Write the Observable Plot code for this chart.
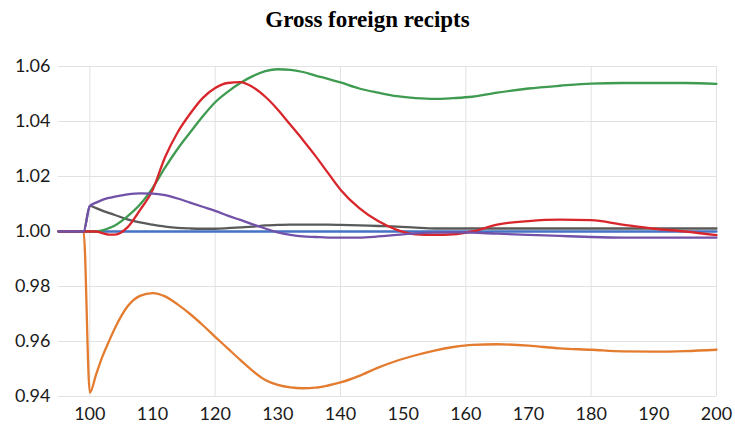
<!DOCTYPE html>
<html>
<head>
<meta charset="utf-8">
<script src="https://cdn.jsdelivr.net/npm/d3@7"></script>
<script src="https://cdn.jsdelivr.net/npm/@observablehq/plot@0.6"></script>
<style>
  body { margin: 0; background: #fff; }
  #title { height: 40px; line-height: 40px; text-align: center; font-family: "Liberation Serif", serif; font-weight: bold; font-size: 23px; color: #000; width: 735px; }
</style>
</head>
<body>
<div id="title">Gross foreign recipts</div>
<div id="chart"></div>
<script>
const periods = [95,99,100,101,102,103,104,106,108,110,112,114,116,118,120,122,124,126,128,130,132,134,136,138,140,143,146,149,152,155,158,161,165,170,175,180,185,190,195,200];

const seriesA = periods.map(() => 1.000);
const seriesB = [1,1,0.9414,0.948,0.9545,0.9598,0.9648,0.9727,0.9766,0.9776,0.9764,0.9735,0.9700,0.9660,0.9617,0.9575,0.9533,0.9493,0.9460,0.9442,0.9433,0.943,0.9432,0.944,0.9451,0.9475,0.9505,0.953,0.955,0.9567,0.958,0.9588,0.959,0.9585,0.9575,0.957,0.9564,0.9563,0.9565,0.957];
const seriesC = [1,1,1.0093,1.0085,1.0076,1.0068,1.006,1.0044,1.0033,1.0025,1.0018,1.0013,1.0011,1.001,1.001,1.0012,1.0015,1.0018,1.0022,1.0024,1.0025,1.0025,1.0025,1.0025,1.0024,1.0022,1.002,1.0018,1.0014,1.0011,1.0011,1.0011,1.0011,1.0011,1.0011,1.0011,1.0011,1.0011,1.0011,1.0011];
const seriesD = [1,1,1,1,1.0004,1.0012,1.0022,1.0055,1.0098,1.0158,1.0232,1.030,1.036,1.0418,1.047,1.0508,1.054,1.0565,1.0583,1.059,1.0588,1.058,1.0567,1.0555,1.0542,1.052,1.0505,1.0492,1.0485,1.0482,1.0485,1.049,1.0505,1.052,1.053,1.0538,1.054,1.054,1.054,1.0537];
const seriesE = [1,1,1,1,0.9994,0.9989,0.9989,1.0015,1.0078,1.015,1.027,1.036,1.0428,1.0485,1.0522,1.054,1.0543,1.0525,1.049,1.0443,1.0388,1.0333,1.0275,1.0213,1.0152,1.0085,1.0038,1.0006,0.999,0.9988,0.999,1.0,1.0025,1.0038,1.0043,1.0041,1.0025,1.001,1.0,0.9987];
const seriesF = [1,1,1.0093,1.0105,1.0115,1.0122,1.0127,1.0135,1.0139,1.0138,1.0132,1.0120,1.0105,1.009,1.0075,1.0058,1.0042,1.0026,1.0011,0.9997,0.9988,0.9982,0.998,0.9978,0.9978,0.9978,0.9982,0.9988,0.9993,0.9996,0.9997,0.9996,0.9992,0.9988,0.9984,0.998,0.9978,0.9978,0.9978,0.9978];

const seriesNames  = ["s1","s2","s3","s4","s5","s6"];
const seriesValues = [seriesA, seriesB, seriesC, seriesD, seriesE, seriesF];
const seriesColors = ["#4472C4","#E47C30","#5A5A5A","#3E9B50","#D8262C","#7152A8"];

const xTicks = [100,110,120,130,140,150,160,170,180,190,200];
const xGrid  = [100,120,140,160,180,200];
const yTicks = [0.94,0.96,0.98,1.00,1.02,1.04,1.06];

const rows = [];
seriesNames.forEach((name, i) => {
  periods.forEach((p, j) => rows.push({series: name, t: p, v: seriesValues[i][j]}));
});

const chart = Plot.plot({
  width: 735,
  height: 390,
  marginTop: 26,
  marginBottom: 34,
  marginLeft: 58,
  marginRight: 19,
  style: {fontFamily: "Lato, sans-serif", fontSize: "18px", color: "#1a1a1a", background: "#fff"},
  x: {domain: [95, 200]},
  y: {domain: [0.94, 1.06]},
  color: {type: "ordinal", domain: seriesNames, range: seriesColors},
  marks: [
    Plot.gridY(yTicks, {stroke: "#e2e2e2", strokeOpacity: 1}),
    Plot.gridX(xGrid, {stroke: "#e2e2e2", strokeOpacity: 1}),
    Plot.axisX(xTicks, {tickSize: 0, tickPadding: 11, fontSize: 18, label: null}),
    Plot.axisY(yTicks, {tickSize: 0, tickPadding: 8, fontSize: 18, label: null, tickFormat: d3.format(".2f")}),
    Plot.line(rows, {x: "t", y: "v", z: "series", stroke: "series", strokeWidth: 2.3, strokeLinejoin: "round", curve: "monotone-x"})
  ]
});
document.getElementById("chart").appendChild(chart);
</script>
</body>
</html>
